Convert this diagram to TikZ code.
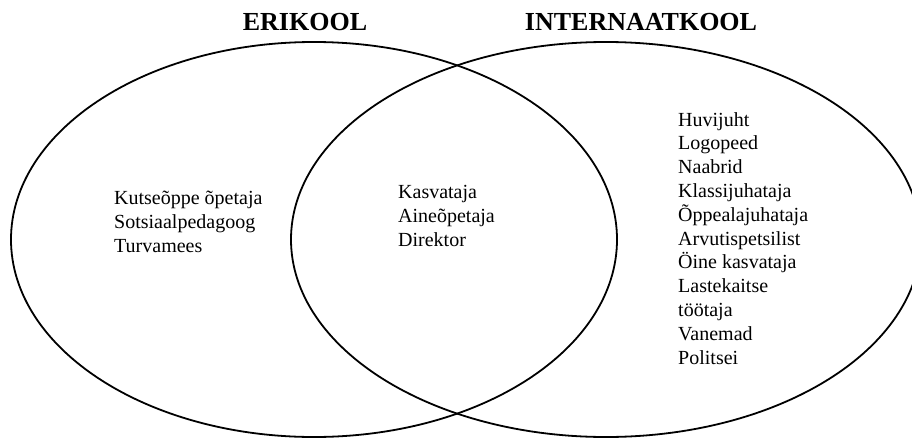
\documentclass[tikz,border=0pt]{standalone}
\usepackage{fontspec}
\setmainfont{Liberation Serif}
\begin{document}
\begin{tikzpicture}[x=1pt,y=-1pt,
  ring/.style={draw=black,line width=1.8pt},
  title/.style={font=\fontsize{26}{30}\selectfont\bfseries,inner sep=0pt,anchor=base},
  item/.style={font=\fontsize{20}{24}\selectfont,inner sep=0pt,anchor=base west}]
\useasboundingbox (0,0) rectangle (912,439);
\begin{scope}
\clip (0,0) rectangle (912,439);
\draw[ring] (314,239.5) ellipse [x radius=303,y radius=197.5];
\draw[ring] (606,239.5) ellipse [x radius=315,y radius=197.5];
\end{scope}
\node[title] (t1) at (305,30) {ERIKOOL};
\node[title] (t2) at (641,30) {INTERNAATKOOL};
% left
\node[item] (l1) at (114,204) {Kutseõppe õpetaja};
\node[item] (l2) at (114,228) {Sotsiaalpedagoog};
\node[item] (l3) at (114,252) {Turvamees};
% middle
\node[item] (m1) at (398,198) {Kasvataja};
\node[item] (m2) at (398,222) {Aineõpetaja};
\node[item] (m3) at (398,246) {Direktor};
% right
\node[item] (r1) at (678,126) {Huvijuht};
\node[item] (r2) at (678,149.8) {Logopeed};
\node[item] (r3) at (678,173.6) {Naabrid};
\node[item] (r4) at (678,197.4) {Klassijuhataja};
\node[item] (r5) at (678,221.2) {Õppealajuhataja};
\node[item] (r6) at (678,245) {Arvutispetsilist};
\node[item] (r7) at (678,268.8) {Öine kasvataja};
\node[item] (r8) at (678,292.6) {Lastekaitse};
\node[item] (r9) at (678,316.4) {töötaja};
\node[item] (r10) at (678,340.2) {Vanemad};
\node[item] (r11) at (678,364) {Politsei};
\end{tikzpicture}
\end{document}
